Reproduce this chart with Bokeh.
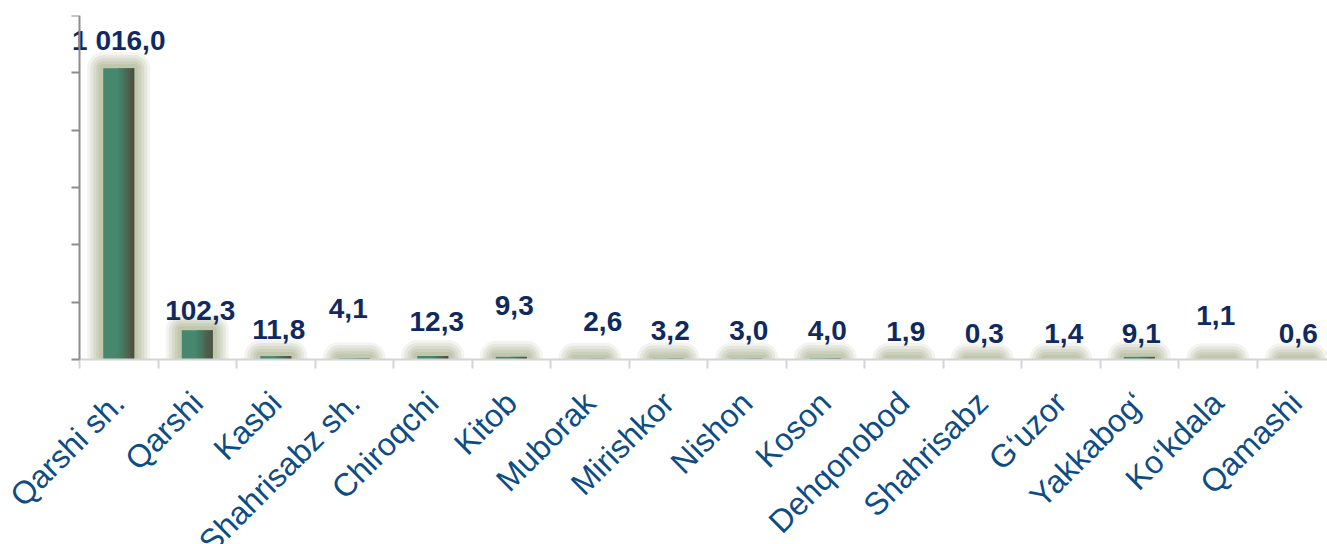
import numpy as np
from bokeh.plotting import figure
from bokeh.models import ColumnDataSource, FixedTicker, Range1d
from bokeh.embed import file_html
from bokeh.resources import INLINE
from bokeh.core.properties import value

# ---- data ----
districts = ["Qarshi sh.", "Qarshi", "Kasbi", "Shahrisabz sh.", "Chiroqchi", "Kitob",
             "Muborak", "Mirishkor", "Nishon", "Koson", "Dehqonobod", "Shahrisabz",
             "G\u2018uzor", "Yakkabog\u2018", "Ko\u2018kdala", "Qamashi"]
values = [1016.0, 102.3, 11.8, 4.1, 12.3, 9.3, 2.6, 3.2, 3.0, 4.0, 1.9, 0.3, 1.4, 9.1, 1.1, 0.6]
y_ticks = [0, 200, 400, 600, 800, 1000, 1200]

# label placement (screen pixel offsets, as placed in the original)
label_dx = [0, 3, 3, -6, 4, 3, 13, 2, 2, 2, 2, 2, 3, 2, -2, 2]
label_dy = [-28, -20, -27, -50, -34, -51, -37, -28, -28, -28, -27, -26, -26, -23, -44, -26]

labels = [f"{v:,.1f}".replace(",", " ").replace(".", ",") for v in values]
xs = np.arange(1, len(districts) + 1)
bar_w = 0.395

src = ColumnDataSource(dict(x=xs, top=values, label=labels, dx=label_dx, dy=label_dy,
                            name=districts, zero=[0] * len(xs)))

# plot area: values 0..1200 occupy 344 px, categories are 78.5 px apart;
# the frame covers the whole canvas so rotated names are not clipped
px_per_unit = 344 / 1200
y_lo = -(544 - 15 - 344) / px_per_unit
cat_px = 78.5
x_lo, x_hi = 0.5 - 79 / cat_px, 0.5 + 1248 / cat_px

p = figure(width=1327, height=544,
           x_range=Range1d(x_lo, x_hi), y_range=Range1d(y_lo, 1200),
           output_backend="svg", toolbar_location=None,
           min_border_left=0, min_border_top=15, min_border_right=0, min_border_bottom=0)
p.outline_line_color = None
p.xgrid.visible = False
p.ygrid.visible = False
p.background_fill_color = "white"
p.border_fill_color = "white"

# glow
for lw, a in [(32, 0.12), (26, 0.15), (20, 0.17), (14, 0.2), (8, 0.2)]:
    p.vbar(x="x", top="top", bottom=0, width=bar_w, source=src,
           fill_alpha=0, line_color="#9aa37a", line_alpha=a, line_width=lw,
           line_join="round")

# bar body
p.vbar(x="x", top="top", bottom=0, width=bar_w, source=src,
       fill_color="#46876e", line_color=None)

# dark shading on the right part of each bar
c0 = np.array([70, 135, 110])
c1 = np.array([80, 74, 60])
n = 7
for k in range(n):
    f0 = 0.48 + 0.52 * k / n
    f1 = 0.48 + 0.52 * (k + 1) / n
    t = (k + 0.5) / n
    c = (c0 * (1 - t) + c1 * t).astype(int)
    col = "#%02x%02x%02x" % tuple(c)
    cx = xs - bar_w / 2 + bar_w * (f0 + f1) / 2
    p.vbar(x=cx, top=values, bottom=0, width=bar_w * (f1 - f0) * 1.02,
           fill_color=col, line_color=None)

# white mask below the zero line (keeps the glow from spilling under the axis)
p.quad(left=[x_lo], right=[x_hi], bottom=[y_lo], top=[0],
       fill_color="white", line_color=None)

# value labels
p.text(x="x", y="top", text="label", source=src, x_offset="dx", y_offset="dy",
       text_align="center", text_baseline="middle",
       text_font=value("Liberation Sans"), text_font_style="bold",
       text_font_size="28px", text_color="#10295f")

# category labels (rotated)
p.text(x="x", y="zero", text="name", source=src, x_offset=0, y_offset=38,
       angle=np.pi / 4, text_align="right", text_baseline="alphabetic",
       text_font=value("Liberation Sans"), text_font_size="32px",
       text_color="#0d4c84")

# x axis: line at zero + boundary ticks
xa = p.xaxis[0]
xa.fixed_location = 0
xa.bounds = (0.5, x_hi)
xa.ticker = FixedTicker(ticks=[], minor_ticks=[i + 0.5 for i in range(0, 17)])
xa.major_tick_line_color = None
xa.minor_tick_in = 0
xa.minor_tick_out = 9
xa.minor_tick_line_color = "#d4d4d4"
xa.minor_tick_line_width = 2
xa.axis_line_color = "#d4d4d4"
xa.axis_line_width = 2

# y axis at the left edge of the first category
ya = p.yaxis[0]
ya.fixed_location = 0.5
ya.bounds = (0, 1200)
ya.ticker = FixedTicker(ticks=[], minor_ticks=y_ticks)
ya.major_tick_line_color = None
ya.minor_tick_in = 0
ya.minor_tick_out = 8
ya.minor_tick_line_color = "#8c8c8c"
ya.minor_tick_line_width = 2
ya.axis_line_color = "#8c8c8c"
ya.axis_line_width = 2

open("out.html", "w").write(file_html(p, INLINE))
